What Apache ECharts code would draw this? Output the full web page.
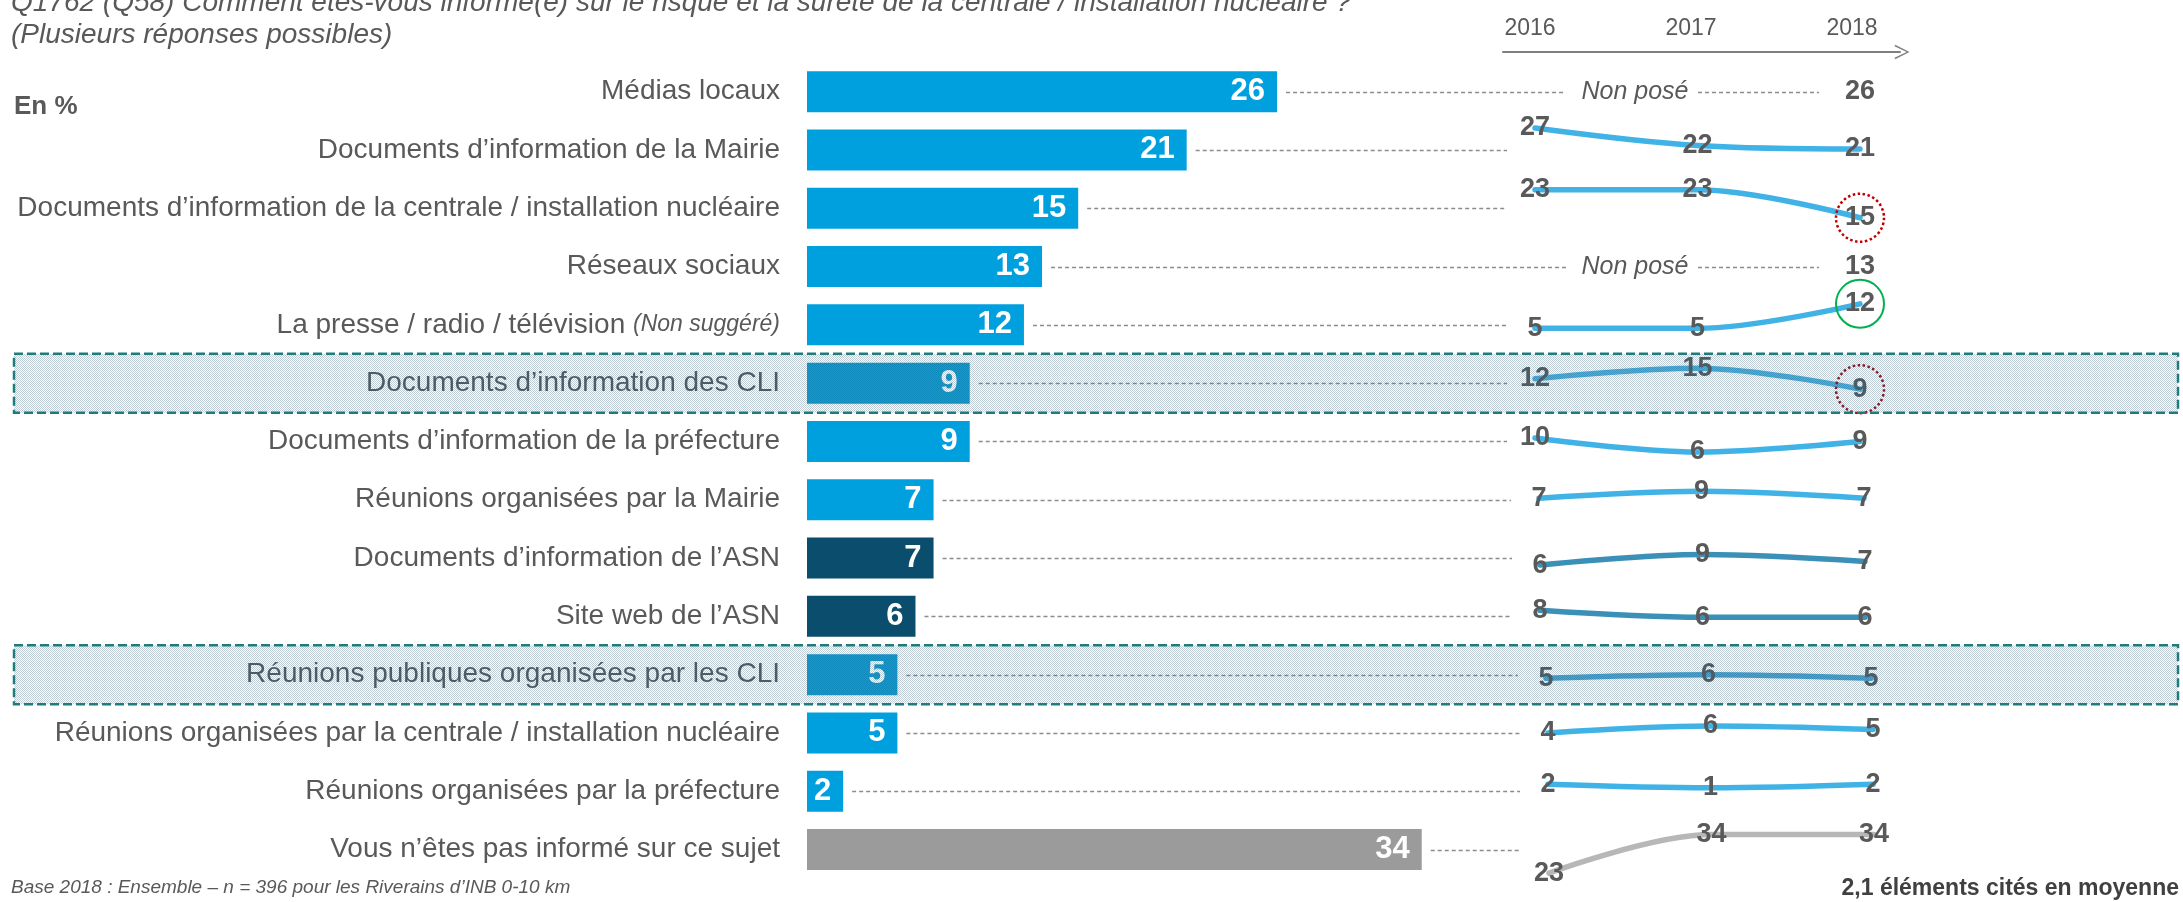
<!DOCTYPE html>
<html><head><meta charset="utf-8">
<script src="https://cdn.jsdelivr.net/npm/echarts@6/dist/echarts.min.js"></script>
<style>html,body{margin:0;padding:0;background:#fff}#c{width:2183px;height:902px}</style>
</head><body><div id="c"></div>
<script>
// ---------------- DATA ----------------
const categories = [
  'Médias locaux',
  'Documents d’information de la Mairie',
  'Documents d’information de la centrale / installation nucléaire',
  'Réseaux sociaux',
  'La presse / radio / télévision (Non suggéré)',
  'Documents d’information des CLI',
  'Documents d’information de la préfecture',
  'Réunions organisées par la Mairie',
  'Documents d’information de l’ASN',
  'Site web de l’ASN',
  'Réunions publiques organisées par les CLI',
  'Réunions organisées par la centrale / installation nucléaire',
  'Réunions organisées par la préfecture',
  'Vous n’êtes pas informé sur ce sujet'
];
const years = ['2016', '2017', '2018'];
const values2018 = [26, 21, 15, 13, 12, 9, 9, 7, 7, 6, 5, 5, 2, 34];
const values2017 = [null, 22, 23, null, 5, 15, 6, 9, 9, 6, 6, 6, 1, 34];
const values2016 = [null, 27, 23, null, 5, 12, 10, 7, 6, 8, 5, 4, 2, 23];
const notAskedText = 'Non posé';
const highlightedRows = [5, 10];
const circledRows = { 2: 'down', 4: 'up', 5: 'down' };
const titleLines = [
  'Q1762 (Q58) Comment êtes-vous informé(e) sur le risque et la sûreté de la centrale / installation nucléaire ?',
  '(Plusieurs réponses possibles)'
];
const unitText = 'En %';
const baseNote = 'Base 2018 : Ensemble – n = 396 pour les Riverains d’INB 0-10 km';
const averageNote = '2,1 éléments cités en moyenne';

// ---------------- STYLE / LAYOUT ----------------
const FONT = '"Liberation Sans", Arial, Helvetica, sans-serif';
const GRAY = '#595959';
const BLUE = '#009FDE', DARK = '#0B4D6C', GREYBAR = '#9B9B9B';
const barColors = [BLUE, BLUE, BLUE, BLUE, BLUE, BLUE, BLUE, BLUE, DARK, DARK, BLUE, BLUE, BLUE, GREYBAR];
const LB = 'rgba(30,165,225,0.85)', LD = 'rgba(25,125,170,0.85)';
const lineColors = [LB, LB, LB, LB, LB, LB, LB, LB, LD, LD, 'rgba(30,150,210,0.85)', LB, LB, 'rgba(175,175,175,0.9)'];
const GRID_TOP = 62.5, ROW_H = 58.3, N = categories.length;
const BAR_LEFT = 807, PX_UNIT = 18.08, BAR_MAX = 40;
const TREND_LEFT = 1535, TREND_W = 325, TREND_PX_UNIT = 3.5, TREND_MAX = 40;
const trendOffsetY = [91, 72.5, 62, 45.5, 21, 37.5, 31.5, 23, 28, 22, 21, 14, 0, 104];
const trendShiftX = [0, 0, 0, 0, 0, 0, 0, 4, 5, 5, 11, 13, 13, 14];
const LEADER_END = 1507;
const NP_LINE1_END = 1566, NP_TEXT_X = 1635, NP_LINE2 = [1698, 1819];

// ---------------- CHART ----------------
const chart = echarts.init(document.getElementById('c'), null, { renderer: 'canvas' });

const grids = [
  { left: BAR_LEFT, top: GRID_TOP, width: BAR_MAX * PX_UNIT, height: N * ROW_H, outerBoundsMode: 'none' },
  { left: 1503, top: 51, width: 397, height: 1, outerBoundsMode: 'none' }
];
const xAxes = [
  { gridIndex: 0, type: 'value', min: 0, max: BAR_MAX, show: false },
  {
    gridIndex: 1, type: 'value', min: 2015.832, max: 2018.298, position: 'top',
    axisLine: { show: true, lineStyle: { color: '#7F7F7F', width: 2 },
      symbol: ['none', 'path://M0,20 L10,0 L20,20 L18,21 L10,4 L2,21 Z'], symbolSize: [26, 15], symbolOffset: [0, 2] },
    axisTick: { show: false }, splitLine: { show: false },
    axisLabel: { customValues: years.map(Number), formatter: v => String(v), color: GRAY, fontSize: 23, fontFamily: FONT, margin: 11 }
  }
];
const yAxes = [
  {
    gridIndex: 0, type: 'category', data: categories, inverse: true,
    axisLine: { show: false }, axisTick: { show: false }, splitLine: { show: false },
    axisLabel: {
      margin: 27, color: GRAY, fontSize: 28, fontFamily: FONT,
      formatter: v => v.replace(/\s*\((Non suggéré)\)$/, ' {ns|($1)}'),
      rich: { ns: { fontStyle: 'italic', fontSize: 23, color: GRAY, fontFamily: FONT } }
    }
  },
  { gridIndex: 1, type: 'value', show: false, min: 0, max: 1 }
];

const series = [
  {
    type: 'bar', xAxisIndex: 0, yAxisIndex: 0, barWidth: 41, silent: true,
    data: values2018.map((v, i) => ({ value: v, itemStyle: { color: barColors[i] } })),
    label: { show: true, position: 'insideRight', distance: 12, color: '#fff', fontSize: 31, fontWeight: 'bold', fontFamily: FONT }
  },
  {
    type: 'custom', xAxisIndex: 0, yAxisIndex: 0, clip: false, silent: true, z: 1,
    data: values2018.map((v, i) => [v, i]),
    encode: { x: 0, y: 1 },
    renderItem: function (params, api) {
      const i = api.value(1);
      const p = api.coord([api.value(0), i]);
      const y = Math.round(p[1]) + 0.5;
      const x0 = p[0] + 9;
      const st = { stroke: '#8C8C8C', lineWidth: 1.5, lineDash: [4, 3] };
      if (values2016[i] == null && values2017[i] == null) {
        return { type: 'group', children: [
          { type: 'line', shape: { x1: x0, y1: y, x2: NP_LINE1_END, y2: y }, style: st },
          { type: 'text', style: { text: notAskedText, x: NP_TEXT_X, y: y, align: 'center', verticalAlign: 'middle',
              fontSize: 25, fontStyle: 'italic', fontFamily: FONT, fill: GRAY } },
          { type: 'line', shape: { x1: NP_LINE2[0], y1: y, x2: NP_LINE2[1], y2: y }, style: st }
        ] };
      }
      return { type: 'line', shape: { x1: x0, y1: y, x2: LEADER_END + trendShiftX[i], y2: y }, style: st };
    }
  }
];

for (let i = 0; i < N; i++) {
  const gi = grids.length;
  const center = GRID_TOP + (i + 0.5) * ROW_H;
  const y0 = center + trendOffsetY[i];
  grids.push({ left: TREND_LEFT + trendShiftX[i], width: TREND_W, top: y0 - TREND_MAX * TREND_PX_UNIT,
    height: TREND_MAX * TREND_PX_UNIT, outerBoundsMode: 'none' });
  xAxes.push({ gridIndex: gi, type: 'category', data: years, boundaryGap: false, show: false });
  yAxes.push({ gridIndex: gi, type: 'value', min: 0, max: TREND_MAX, show: false });
  const vals = [values2016[i], values2017[i], values2018[i]];
  const data = vals.map((v, k) => {
    if (k === 2 && circledRows[i]) {
      const up = circledRows[i] === 'up';
      return { value: v, symbol: 'circle', symbolSize: 48,
        itemStyle: { color: 'rgba(0,0,0,0)', borderColor: up ? '#00B050' : '#C00000', borderWidth: up ? 2 : 2.5, borderType: up ? 'solid' : 'dotted' } };
    }
    return v;
  });
  series.push({
    type: 'line', xAxisIndex: gi, yAxisIndex: gi, smooth: 0.35, silent: true,
    symbol: 'circle', symbolSize: 1, itemStyle: { color: 'rgba(0,0,0,0)' },
    lineStyle: { width: 5.5, color: lineColors[i], cap: 'round' },
    label: { show: true, position: 'inside', color: GRAY, fontSize: 27, fontWeight: 'bold', fontFamily: FONT },
    data: data, z: 3
  });
}

chart.setOption({
  animation: false,
  backgroundColor: '#fff',
  grid: grids, xAxis: xAxes, yAxis: yAxes, series: series
});

// pattern for highlighted rows
const pc = document.createElement('canvas');
pc.width = 2; pc.height = 2;
const ctx = pc.getContext('2d');
ctx.fillStyle = 'rgba(50,95,125,0.32)';
ctx.fillRect(0, 0, 1, 1); ctx.fillRect(1, 1, 1, 1);

const graphics = [
  { type: 'text', left: 11, top: -11, silent: true, style: { text: titleLines[0], fontSize: 28, fontStyle: 'italic', fontFamily: FONT, fill: GRAY } },
  { type: 'text', left: 11, top: 21, silent: true, style: { text: titleLines[1], fontSize: 28, fontStyle: 'italic', fontFamily: FONT, fill: GRAY } },
  { type: 'text', left: 14, top: 94, silent: true, style: { text: unitText, fontSize: 26, fontWeight: 'bold', fontFamily: FONT, fill: GRAY } },
  { type: 'text', left: 11, top: 878, silent: true, style: { text: baseNote, fontSize: 19, fontStyle: 'italic', fontFamily: FONT, fill: GRAY } },
  { type: 'text', right: 4, top: 877, silent: true, style: { text: averageNote, fontSize: 23, fontWeight: 'bold', fontFamily: FONT, fill: '#404040' } }
];
highlightedRows.forEach(i => {
  const yc = chart.convertToPixel({ yAxisIndex: 0 }, categories[i]);
  graphics.push({ type: 'rect', z: 100, silent: true,
    shape: { x: 14, y: yc - 29.5, width: 2164, height: 59 },
    style: { fill: { image: pc, repeat: 'repeat' }, stroke: '#1F7C7C', lineWidth: 2.5, lineDash: [9, 4] } });
});
chart.setOption({ graphic: graphics });
</script>
</body></html>
